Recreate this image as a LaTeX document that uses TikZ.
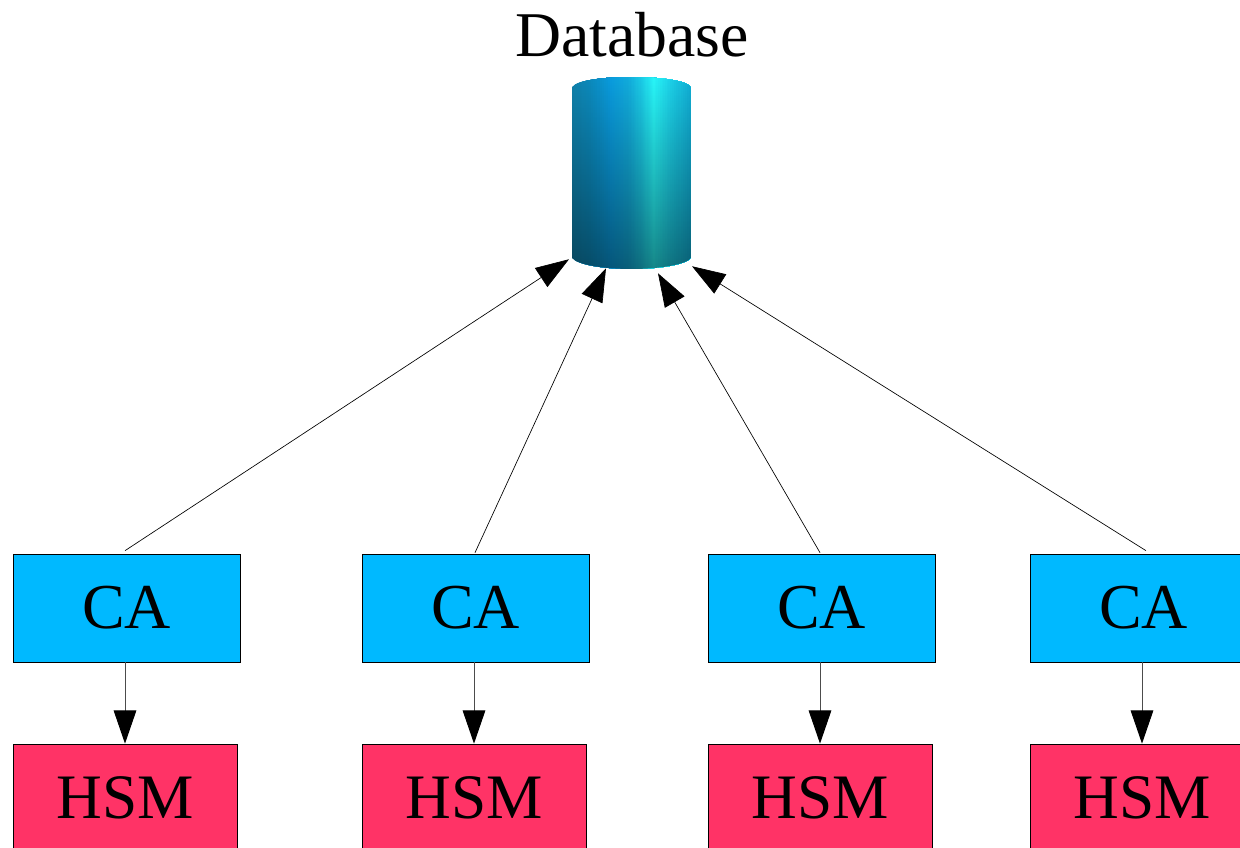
\documentclass[tikz,border=0pt]{standalone}
\usepackage{fontspec}
\setmainfont{Liberation Serif}
\usetikzlibrary{arrows.meta,calc,fadings}
\definecolor{caB}{HTML}{00B9FF}
\definecolor{hsmR}{HTML}{FF3366}
\definecolor{cylA}{HTML}{1082AC}
\definecolor{cylB}{HTML}{0C8ABC}
\definecolor{cylC}{HTML}{0A9CDE}
\definecolor{cylD}{HTML}{12ACDC}
\definecolor{cylG}{HTML}{1CCEE8}
\definecolor{cylE}{HTML}{28F5F8}
\definecolor{cylH}{HTML}{1CD0E8}
\definecolor{cylF}{HTML}{10ACD4}
\tikzfading[name=cyldown, top color=transparent!100, bottom color=transparent!55]
\newcommand\lift[1]{\raisebox{-1.5pt}{#1}}
\tikzset{
  cabox/.style={draw=black,line width=0.5pt,fill=caB,minimum width=170.25pt,minimum height=81pt,inner sep=0pt,font=\fontsize{48}{48}\selectfont},
  hsmbox/.style={draw=black,line width=0.5pt,fill=hsmR,minimum width=168pt,minimum height=81pt,inner sep=0pt,font=\fontsize{47.5}{48}\selectfont},
  dbbox/.style={minimum width=89.25pt,minimum height=144pt,inner sep=0pt},
  dblabel/.style={inner sep=0pt,font=\fontsize{47.8}{48}\selectfont},
  link/.style={draw=black,line width=0.5pt,-{Triangle[length=25pt,width=17pt]}},
  drop/.style={draw=black!70,line width=0.75pt,-{Triangle[length=25pt,width=17pt,color=black]}}
}
\begin{document}
\begin{tikzpicture}[x=0.75pt,y=-0.75pt]
\useasboundingbox (0,0) rectangle (1240,848);
\clip (0,0) rectangle (1240,848);
% database
\begin{scope}
\path[clip] (572,87) .. controls (578,80) and (605,77) .. (631.5,77) .. controls (658,77) and (685,80) .. (691,87) -- (691,258) .. controls (685,265) and (658,269) .. (631.5,269) .. controls (605,269) and (578,265) .. (572,258) -- cycle;
\foreach \xa/\xb/\ca/\cb in {572/589/cylA/cylB,589/610/cylB/cylC,610/628/cylC/cylD,628/642/cylD/cylG,642/653/cylG/cylE,653/670/cylE/cylH,670/691/cylH/cylF}{
  \foreach \t in {0,2,...,18}{
    \pgfmathsetmacro\xx{\xa+(\xb-\xa)*\t/20}
    \pgfmathsetmacro\pp{\t*5}
    \fill[\cb!\pp!\ca] (\xx,77) rectangle (691,269);
  }
}
\fill[black,path fading=cyldown] (572,77) rectangle (691,269);
\end{scope}
\node[dbbox] (db) at (631.5,173) {};
\node[dblabel,anchor=base] (dbl) at (632,57) {Database};
% boxes
\foreach \n/\x in {1/126.5,2/475.5,3/821.5,4/1143.5}{
  \node[cabox] (ca\n) at (\x,608) {\lift{CA}};
}
\foreach \n/\x in {1/125,2/474,3/820,4/1142}{
  \node[hsmbox] (hsm\n) at (\x,798) {\lift{HSM}};
}
% connectors
\draw[link] ($(ca1.north)+(-1.5,-3)$) -- ($(db.south)+(-62.5,-10)$);
\draw[link] ($(ca2.north)+(-0.5,-1)$) -- ($(db.south)+(-25.5,-1)$);
\draw[link] ($(ca3.north)+(-1.5,-1)$) -- ($(db.south)+(26.5,4)$);
\draw[link] ($(ca4.north)+(2.5,-3)$) -- ($(db.south)+(60.5,-3)$);
\foreach \n in {1,2,3,4}{
  \draw[drop] (hsm\n.north |- ca\n.south) -- (hsm\n.north);
}
\end{tikzpicture}
\end{document}
